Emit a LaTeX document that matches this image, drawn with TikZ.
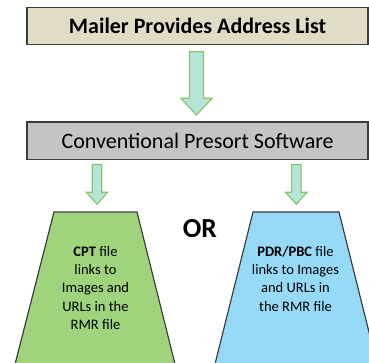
\documentclass[tikz,border=0pt]{standalone}
\usepackage{fontspec}
\setmainfont{Carlito}
\usetikzlibrary{calc}

\definecolor{tanfill}{HTML}{E0DCC6}
\definecolor{grayfill}{HTML}{C4C4C4}
\definecolor{boxline}{HTML}{3C3C3C}
\definecolor{arrowfill}{HTML}{B4E5D8}
\definecolor{arrowline}{HTML}{8CC46E}
\definecolor{cptfill}{HTML}{A0D47C}
\definecolor{pdrfill}{HTML}{96DAF8}

\tikzset{
  banner/.style={draw=boxline, line width=1.5pt, minimum width=341pt,
    inner sep=0pt, font=\fontsize{22}{26}\selectfont},
  blockarr/.style={fill=arrowfill, draw=arrowline, line width=1.2pt, line join=miter},
  funnel/.style={draw=boxline, line width=1.2pt, line join=miter},
  funneltext/.style={align=center, font=\fontsize{14.5}{18.3}\selectfont, inner sep=0pt}
}

% hollow block arrow: centre x, top y, tip y, half shaft, half head, head length
\newcommand\blockarrow[6]{%
  \draw[blockarr] ({#1-#4},#2) -- ({#1+#4},#2) -- ({#1+#4},{#3-#6})
    -- ({#1+#5},{#3-#6}) -- (#1,#3) -- ({#1-#5},{#3-#6})
    -- ({#1-#4},{#3-#6}) -- cycle;}

\begin{document}
\begin{tikzpicture}[x=1pt,y=-1pt]
\useasboundingbox (0,0) rectangle (369,362);
\clip (0,0) rectangle (369,362);

% the two processing stages
\node[banner, fill=tanfill, minimum height=37pt] (mailer) at (197.6,25.8)
  {\bfseries Mailer Provides Address List};
\node[banner, fill=grayfill, minimum height=37.5pt] (presort) at (197.6,140.8)
  {Conventional Presort Software};

% output files, widening past the lower edge
\draw[funnel, fill=cptfill] (54,212) -- (137,212) -- (179,380) -- (11,380) -- cycle;
\draw[funnel, fill=pdrfill] (253,212) -- (339,212) -- (381,380) -- (211,380) -- cycle;
\coordinate (cpttop) at (95.5,212);
\coordinate (pdrtop) at (296,212);

\node[funneltext, anchor=north] (cpt) at (95.5,246)
  {\bfseries CPT\mdseries{} file\\links to\\Images and\\URLs in the\\RMR file};
\node[funneltext, anchor=north] (pdr) at (295.5,246)
  {\bfseries PDR/PBC\mdseries{} file\\links to Images\\and URLs in\\the RMR file};

\node[font=\bfseries\fontsize{27.5}{30}\selectfont, inner sep=0pt] (or) at (199.8,228.5) {OR};

% flow arrows between the stages
\blockarrow{196.5}{51.7}{115}{7}{15.6}{16.7}
\blockarrow{97}{164.5}{204.2}{4.7}{10.6}{12}
\blockarrow{296.3}{164.5}{204.2}{4.7}{10.9}{12}
\end{tikzpicture}
\end{document}
